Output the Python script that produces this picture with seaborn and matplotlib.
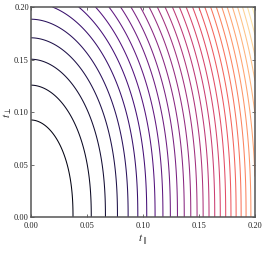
import numpy as np
import matplotlib
matplotlib.use("Agg")
import matplotlib.pyplot as plt
import seaborn as sns

# Field parameters: f = t_par**a + c * t_perp**b
par_exponent = 1.92
perp_exponent = 2.26
perp_weight = 0.398
level_step = 0.00183
n_levels = 31

t_par = np.linspace(0.0, 0.2, 401)
t_perp = np.linspace(0.0, 0.2, 401)
x_ticks = [0.00, 0.05, 0.10, 0.15, 0.20]
y_ticks = [0.00, 0.05, 0.10, 0.15, 0.20]

sns.set_style("ticks", {"xtick.direction": "in", "ytick.direction": "in"})
plt.rcParams["font.family"] = ["Liberation Serif", "DejaVu Serif"]
plt.rcParams["mathtext.fontset"] = "stix"

P, Q = np.meshgrid(t_par, t_perp)
F = P ** par_exponent + perp_weight * Q ** perp_exponent
levels = np.arange(1, n_levels + 1) * level_step

fig = plt.figure(figsize=(2.66, 2.59), dpi=100)
ax = fig.add_axes([0.1165, 0.162, 0.842, 0.811])
ax.contour(P, Q, F, levels=levels, cmap="magma", vmin=0, vmax=levels[-1],
           linewidths=0.75)

ax.set_xlim(0, 0.2)
ax.set_ylim(0, 0.2)
ax.set_xticks(x_ticks)
ax.set_yticks(y_ticks)
ax.set_xticklabels([f"{v:.2f}" for v in x_ticks])
ax.set_yticklabels([f"{v:.2f}" for v in y_ticks])
ax.tick_params(labelsize=6, length=2.5, width=0.6, pad=1.5,
               top=True, right=True, colors="#555555", labelcolor="#222222")
ax.tick_params(axis="x", pad=3.5)
for s in ax.spines.values():
    s.set_linewidth(1.1)
    s.set_color("#555555")
ax.set_xlabel(r"$t_\parallel$", fontsize=8, labelpad=2)
ax.set_ylabel(r"$t_\perp$", fontsize=8, labelpad=0)

fig.savefig("out.png", dpi=100)
